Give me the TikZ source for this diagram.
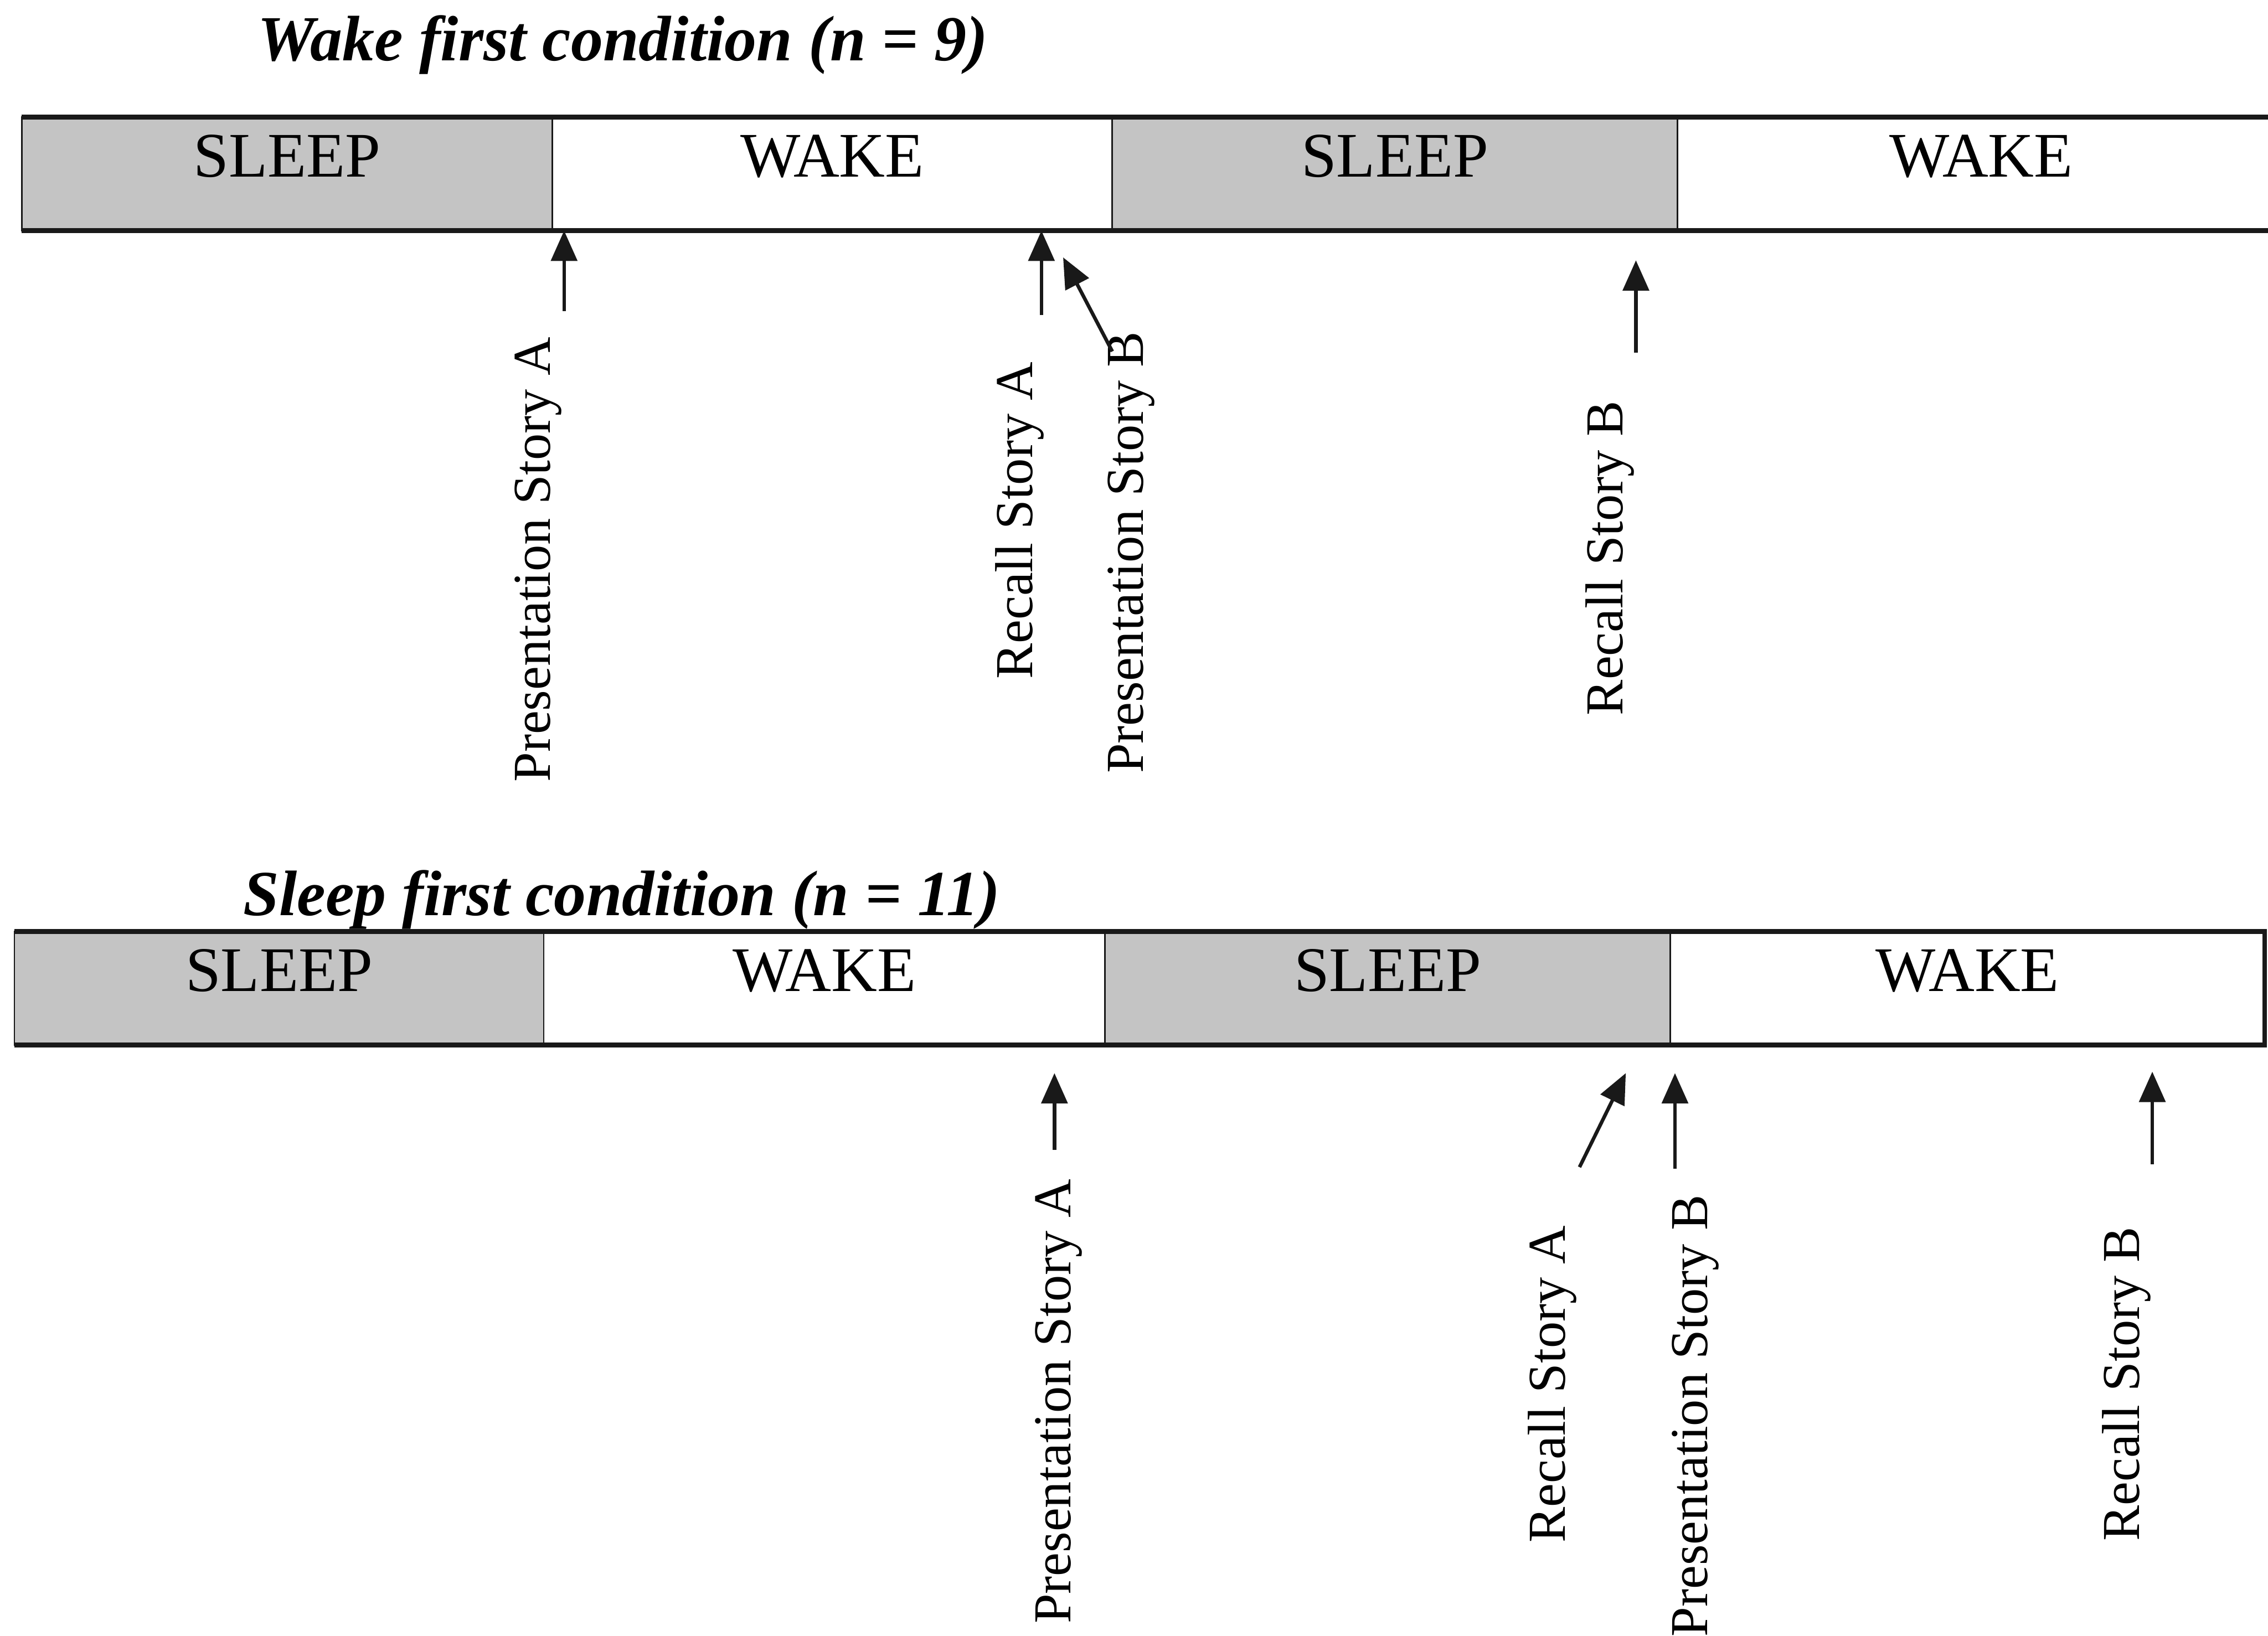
\documentclass[tikz,border=0pt]{standalone}
\usepackage{fontspec}
\setmainfont{Liberation Serif}
\usetikzlibrary{arrows.meta, positioning}
\definecolor{sleepgray}{RGB}{196,196,196}
\definecolor{inkblack}{RGB}{25,25,25}

\begin{document}
\begin{tikzpicture}[x=0.02cm, y=-0.02cm,
    phase/.style={rectangle, draw=inkblack, line width=0.6pt, minimum height=1.57cm, inner sep=0pt, outer sep=0pt, text depth=0.5cm, font=\fontsize{25}{30}\selectfont},
    sleepphase/.style={phase, fill=sleepgray},
    wakephase/.style={phase, fill=white},
    heading/.style={anchor=base west, inner sep=0pt, font=\fontsize{25.3}{30}\selectfont\bfseries\itshape},
    event/.style={rotate=90, inner sep=0pt, font=\fontsize{21}{25}\selectfont},
    rim/.style={line width=1.9pt, color=inkblack},
    arrow/.style={-{Triangle[length=0.42cm, width=0.36cm]}, line width=1.4pt, color=inkblack}
]
\useasboundingbox (0,0) rectangle (1568,1131);

\node[heading] (wtitle) at (178,42) {Wake first condition (n = 9)};
\node[sleepphase, anchor=north west, minimum width=7.34cm] (s1) at (15,81) {SLEEP};
\node[wakephase, right=0pt of s1, minimum width=7.74cm] (w1) {WAKE};
\node[sleepphase, right=0pt of w1, minimum width=7.82cm] (s2) {SLEEP};
\node[wakephase, right=0pt of s2, minimum width=8.4cm] (w2) {WAKE};
\draw[rim] (s1.north west) -- (w2.north east);
\draw[rim] (s1.south west) -- (w2.south east);

\node[event] (pa1) at (372,387) {Presentation Story A};
\node[event] (ra1) at (705,360) {Recall Story A};
\node[event] (pb1) at (782,382) {Presentation Story B};
\node[event] (rb1) at (1113,386) {Recall Story B};
\coordinate (pa1t) at (390,215);
\coordinate (ra1t) at (720,218);
\coordinate (pb1t) at (769,243);
\coordinate (pb1h) at (735,178);
\coordinate (rb1t) at (1131,244);
\coordinate (rb1h) at (1131,180);
\draw[arrow] (pa1t) -- (pa1t |- w1.south);
\draw[arrow] (ra1t) -- (ra1t |- w1.south);
\draw[arrow] (pb1t) -- (pb1h);
\draw[arrow] (rb1t) -- (rb1h);

\node[sleepphase, anchor=north west, minimum width=7.32cm] (s3) at (10,644) {SLEEP};
\node[wakephase, right=0pt of s3, minimum width=7.76cm] (w3) {WAKE};
\node[sleepphase, right=0pt of w3, minimum width=7.82cm] (s4) {SLEEP};
\node[wakephase, right=0pt of s4, minimum width=8.22cm] (w4) {WAKE};
\draw[rim] (s3.north west) -- (w4.north east) -- (w4.south east) -- (s3.south west);
\node[heading] (stitle) at (168,633) {Sleep first condition (n = 11)};

\node[event] (pa2) at (732,969) {Presentation Story A};
\node[event] (ra2) at (1073,957) {Recall Story A};
\node[event] (pb2) at (1172,979) {Presentation Story B};
\node[event] (rb2) at (1470,957) {Recall Story B};
\coordinate (pa2t) at (729,795);
\coordinate (pa2h) at (729,742);
\coordinate (ra2t) at (1092,807);
\coordinate (ra2h) at (1124,742);
\coordinate (pb2t) at (1158,808);
\coordinate (pb2h) at (1158,742);
\coordinate (rb2t) at (1488,805);
\coordinate (rb2h) at (1488,741);
\draw[arrow] (pa2t) -- (pa2h);
\draw[arrow] (ra2t) -- (ra2h);
\draw[arrow] (pb2t) -- (pb2h);
\draw[arrow] (rb2t) -- (rb2h);
\end{tikzpicture}
\end{document}
